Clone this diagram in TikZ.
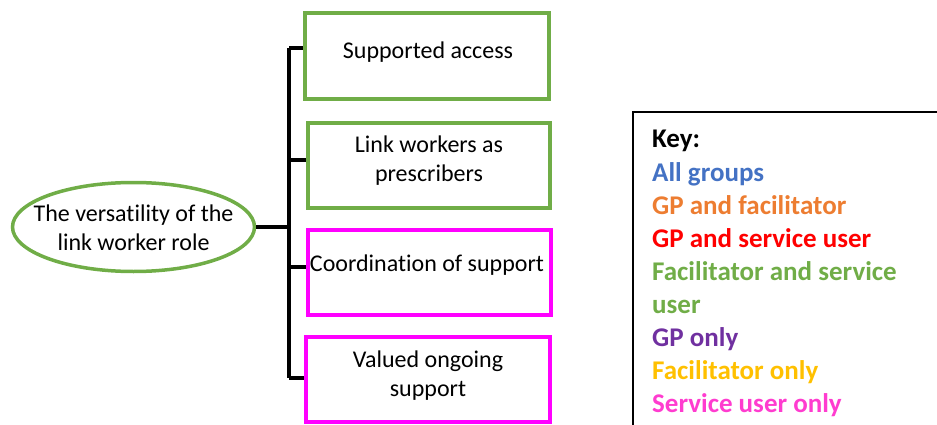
\documentclass[tikz,border=0pt]{standalone}
\usepackage{fontspec}
\setmainfont{Carlito}[Ligatures=NoCommon]
\usetikzlibrary{shapes.geometric}
\definecolor{lgreen}{HTML}{70AD47}
\definecolor{lpink}{HTML}{FF00FF}
\definecolor{kblue}{HTML}{4472C4}
\definecolor{korange}{HTML}{ED7D31}
\definecolor{kred}{HTML}{FF0000}
\definecolor{kpurple}{HTML}{7030A0}
\definecolor{kyellow}{HTML}{FFC000}
\definecolor{kpink}{HTML}{FF3CCF}
\begin{document}
\begin{tikzpicture}[x=1pt,y=-1pt,
  themebox/.style={draw,rectangle,line width=4pt,inner sep=0pt},
  boxtext/.style={align=center,font=\fontsize{24}{29}\selectfont,inner sep=0pt},
  conn/.style={line width=4pt,black},
  keytext/.style={anchor=base west,inner sep=0pt,font=\fontsize{27}{33}\selectfont\bfseries}]
\useasboundingbox (0,0) rectangle (937,425);
\clip (0,0) rectangle (937,425);
% central ellipse
\node[ellipse,draw=lgreen,line width=3.5pt,minimum width=242pt,minimum height=89pt,inner sep=0pt] (ell) at (133.5,227) {};
\node[boxtext] (te) at (133.5,228) {The versatility of the\\link worker role};
% boxes
\node[themebox,draw=lgreen,minimum width=244pt,minimum height=86pt] (b1) at (426.5,56.5) {};
\node[themebox,draw=lgreen,minimum width=242pt,minimum height=85pt] (b2) at (429,165.5) {};
\node[themebox,draw=lpink,minimum width=243pt,minimum height=85pt] (b3) at (429.5,272.5) {};
\node[themebox,draw=lpink,minimum width=244pt,minimum height=85pt] (b4) at (428,379.5) {};
\node[boxtext] (t1) at (428,52) {Supported access};
\node[boxtext] (t2) at (429,161) {Link workers as\\prescribers};
\node[boxtext] (t3) at (427,265) {Coordination of support};
\node[boxtext] (t4) at (428,376) {Valued ongoing\\support};
% connectors
\coordinate (j1) at (289,48);
\coordinate (j2) at (289,160);
\coordinate (j3) at (289,267);
\coordinate (j4) at (289,378);
\coordinate (jm) at (289,227);
\draw[conn] (j1) -- (j4);
\draw[conn] (j1) -- (j1 -| b1.west);
\draw[conn] (j2) -- (j2 -| b2.west);
\draw[conn] (j3) -- (j3 -| b3.west);
\draw[conn] (j4) -- (j4 -| b4.west);
\draw[conn] (ell.east) -- (jm);
% key
\draw[line width=2pt] (633,112) rectangle (960,440);
\node[keytext,text=black] (k0) at (652,148) {Key:};
\node[keytext,text=kblue] (k1) at (652,181) {All groups};
\node[keytext,text=korange] (k2) at (652,214) {GP and facilitator};
\node[keytext,text=kred] (k3) at (652,247) {GP and service user};
\node[keytext,text=lgreen] (k4) at (652,280) {Facilitator and service};
\node[keytext,text=lgreen] (k5) at (652,313) {user};
\node[keytext,text=kpurple] (k6) at (652,346) {GP only};
\node[keytext,text=kyellow] (k7) at (652,379) {Facilitator only};
\node[keytext,text=kpink] (k8) at (652,412) {Service user only};
\end{tikzpicture}
\end{document}
